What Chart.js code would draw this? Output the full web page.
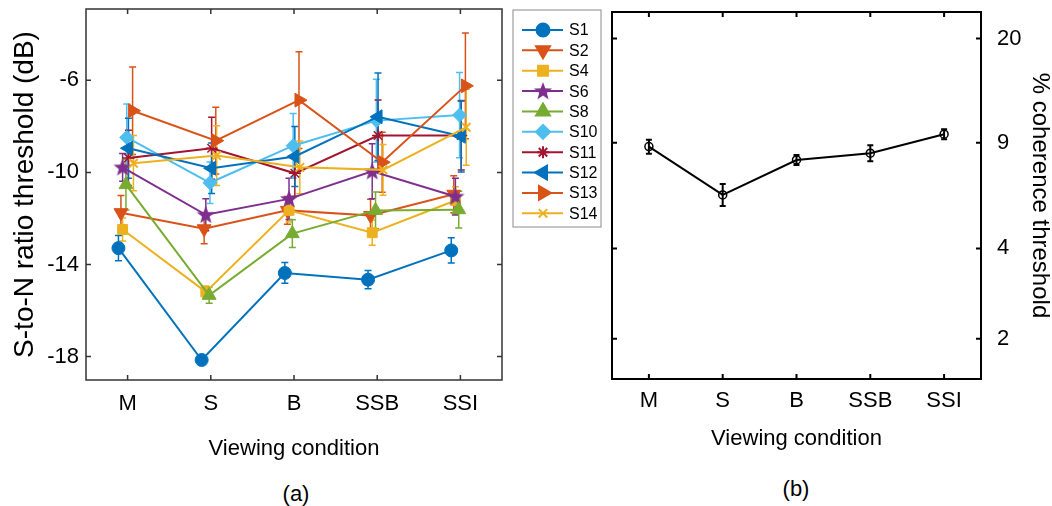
<!DOCTYPE html>
<html>
<head>
<meta charset="utf-8">
<script src="https://cdn.jsdelivr.net/npm/chart.js"></script>
<style>
  body { margin: 0; background: #fff; width: 1052px; height: 506px; position: relative; overflow: hidden;
         font-family: "Liberation Sans", Arial, Helvetica, sans-serif; color: #000; }
  #a { position: absolute; left: 0; top: 0; }
  #b { position: absolute; left: 605px; top: 0; }
  .lab { position: absolute; font-size: 22px; transform: translate(-50%, -50%); }
</style>
</head>
<body>
<canvas id="a" width="610" height="470" style="width:610px;height:470px"></canvas>
<canvas id="b" width="447" height="470" style="width:447px;height:470px"></canvas>
<div class="lab" style="left:296px;top:494px">(a)</div>
<div class="lab" style="left:796px;top:489px">(b)</div>
<script>
var conditions = ['M', 'S', 'B', 'SSB', 'SSI'];
var subjects = ['S1', 'S2', 'S4', 'S6', 'S8', 'S10', 'S11', 'S12', 'S13', 'S14'];

// panel (a): S-to-N ratio threshold (dB), per subject, M S B SSB SSI
var s1  = [-13.29, -18.15, -14.37, -14.66, -13.39];
var s2  = [-11.75, -12.45, -11.65, -11.87, -10.95];
var s4  = [-12.48, -15.19, -11.65, -12.62, -11.22];
var s6  = [-9.78, -11.84, -11.15, -9.95, -11.05];
var s8  = [-10.53, -15.34, -12.66, -11.65, -11.62];
var s10 = [-8.48, -10.45, -8.84, -7.75, -7.51];
var s11 = [-9.37, -8.95, -10.04, -8.40, -8.40];
var s12 = [-8.95, -9.82, -9.31, -7.58, -8.43];
var s13 = [-7.32, -8.62, -6.86, -9.56, -6.24];
var s14 = [-9.60, -9.27, -9.78, -9.89, -8.04];

// error bar half-lengths (dB)
var e1  = [0.55, 0.15, 0.45, 0.40, 0.55];
var e2  = [0.75, 0.65, 0.60, 0.70, 0.80];
var e4  = [0.50, 0.25, 0.50, 0.55, 0.60];
var e6  = [0.60, 0.70, 0.90, 1.20, 0.80];
var e8  = [1.10, 0.35, 0.60, 0.80, 0.80];
var e10 = [1.45, 0.90, 1.40, 1.80, 1.85];
var e11 = [1.20, 1.35, 1.00, 1.55, 1.50];
var e12 = [1.30, 1.10, 1.30, 1.90, 1.55];
var e13 = [1.90, 1.45, 2.10, 1.30, 2.30];
var e14 = [1.20, 1.30, 1.15, 1.10, 1.65];

// small horizontal spread of subjects around each condition (category units)
var jitter = [-0.11, -0.08, -0.06, -0.06, -0.02, -0.01, 0.01, 0.01, 0.06, 0.07];

var dbTicks = [-18, -14, -10, -6];

// panel (b): % coherence threshold, mean and error bar ends
var coherence = [8.73, 6.03, 7.88, 8.30, 9.60];
var cohLow    = [8.27, 5.54, 7.58, 7.81, 9.24];
var cohHigh   = [9.21, 6.56, 8.19, 8.82, 9.97];
var cohTicks  = [2, 4, 9, 20];

var values = [s1, s2, s4, s6, s8, s10, s11, s12, s13, s14];
var errors = [e1, e2, e4, e6, e8, e10, e11, e12, e13, e14];

var FONT = '"Liberation Sans", Arial, Helvetica, sans-serif';
var blue = '#0072BD', orange = '#D95319', yellow = '#EDB120', purple = '#7E2F8E',
    green = '#77AC30', cyan = '#4DBEEE', maroon = '#A2142F';

// filled pentagram for S6
function starImage(color) {
  var c = document.createElement('canvas');
  c.width = 20; c.height = 20;
  var g = c.getContext('2d');
  g.fillStyle = color;
  g.beginPath();
  for (var k = 0; k < 10; k++) {
    var r = k % 2 === 0 ? 9.5 : 4;
    var ang = -Math.PI / 2 + k * Math.PI / 5;
    g.lineTo(10 + r * Math.cos(ang), 10.5 + r * Math.sin(ang));
  }
  g.closePath();
  g.fill();
  return c;
}

var markers = [
  { color: blue,   style: 'circle',   rot: 0,   r: 6.5, bw: 1 },
  { color: orange, style: 'triangle', rot: 180, r: 8,   bw: 1 },
  { color: yellow, style: 'rect',     rot: 0,   r: 7,   bw: 1 },
  { color: purple, style: starImage(purple), rot: 0, r: 8, bw: 1 },
  { color: green,  style: 'triangle', rot: 0,   r: 8,   bw: 1 },
  { color: cyan,   style: 'rectRot',  rot: 0,   r: 7,   bw: 1 },
  { color: maroon, style: 'star',     rot: 0,   r: 6,   bw: 1.5 },
  { color: blue,   style: 'triangle', rot: 270, r: 8,   bw: 1 },
  { color: orange, style: 'triangle', rot: 90,  r: 8,   bw: 1 },
  { color: yellow, style: 'crossRot', rot: 0,   r: 6,   bw: 2 }
];

var errorBars = {
  id: 'errorBars',
  beforeDatasetsDraw: function (chart) {
    var ctx = chart.ctx, x = chart.scales.x, y = chart.scales.y;
    chart.data.datasets.forEach(function (ds) {
      ctx.save();
      ctx.strokeStyle = ds.borderColor;
      ctx.lineWidth = ds.errWidth;
      ctx.beginPath();
      ds.data.forEach(function (p, j) {
        var px = x.getPixelForValue(p.x);
        var y1 = y.getPixelForValue(ds.low[j]), y2 = y.getPixelForValue(ds.high[j]);
        var c = ds.cap;
        ctx.moveTo(px, y1); ctx.lineTo(px, y2);
        ctx.moveTo(px - c, y1); ctx.lineTo(px + c, y1);
        ctx.moveTo(px - c, y2); ctx.lineTo(px + c, y2);
      });
      ctx.stroke();
      ctx.restore();
    });
  }
};

function frame(color, width, len) {
  return {
    id: 'frame',
    afterDraw: function (chart) {
      var ctx = chart.ctx, a = chart.chartArea, x = chart.scales.x, y = chart.scales.y;
      ctx.save();
      ctx.strokeStyle = color;
      ctx.lineWidth = width;
      ctx.strokeRect(a.left, a.top, a.right - a.left, a.bottom - a.top);
      ctx.beginPath();
      x.ticks.forEach(function (t) {
        var px = x.getPixelForValue(t.value);
        ctx.moveTo(px, a.bottom); ctx.lineTo(px, a.bottom - len);
        ctx.moveTo(px, a.top); ctx.lineTo(px, a.top + len);
      });
      y.ticks.forEach(function (t) {
        var py = y.getPixelForValue(t.value);
        ctx.moveTo(a.left, py); ctx.lineTo(a.left + len, py);
        ctx.moveTo(a.right, py); ctx.lineTo(a.right - len, py);
      });
      ctx.stroke();
      ctx.restore();
    }
  };
}

var legendBox = {
  id: 'legendBox',
  afterDraw: function (chart) {
    var ctx = chart.ctx;
    ctx.save();
    ctx.fillStyle = '#fff';
    ctx.fillRect(513, 10, 88, 217);
    ctx.strokeStyle = '#8a8a8a';
    ctx.lineWidth = 1;
    ctx.strokeRect(513, 10, 88, 217);
    chart.data.datasets.forEach(function (ds, i) {
      var yy = 30 + i * 20.37;
      ctx.strokeStyle = ds.borderColor;
      ctx.fillStyle = ds.borderColor;
      ctx.lineWidth = 2;
      ctx.beginPath(); ctx.moveTo(522, yy); ctx.lineTo(563, yy); ctx.stroke();
      Chart.helpers.drawPoint(ctx, {
        pointStyle: ds.pointStyle, rotation: ds.pointRotation,
        radius: ds.pointRadius, borderWidth: ds.pointBorderWidth
      }, 543, yy);
      ctx.fillStyle = '#000';
      ctx.font = '16px ' + FONT;
      ctx.textBaseline = 'middle';
      ctx.textAlign = 'left';
      ctx.fillText(ds.label, 569, yy + 1);
    });
    ctx.restore();
  }
};

// no extra room for half tick labels: the plot box is placed exactly
function noPad(s) {
  s.paddingTop = 0; s.paddingBottom = 0; s.paddingLeft = 0; s.paddingRight = 0;
}

var tickFont = { family: FONT, size: 22 };

var left = new Chart(document.getElementById('a'), {
  type: 'line',
  data: {
    datasets: subjects.map(function (name, i) {
      var m = markers[i];
      return {
        label: name,
        data: values[i].map(function (v, j) { return { x: j + jitter[i], y: v }; }),
        low: values[i].map(function (v, j) { return v - errors[i][j]; }),
        high: values[i].map(function (v, j) { return v + errors[i][j]; }),
        cap: 3.5,
        errWidth: 1.5,
        borderColor: m.color,
        backgroundColor: m.color,
        borderWidth: 2,
        pointStyle: m.style,
        pointRotation: m.rot,
        pointRadius: m.r,
        pointBorderWidth: m.bw,
        pointBackgroundColor: m.color,
        pointBorderColor: m.color,
        order: 20 - i
      };
    })
  },
  options: {
    responsive: false,
    animation: false,
    layout: { padding: { left: 0, right: 108, top: 8, bottom: 0 } },
    plugins: { legend: { display: false }, tooltip: { enabled: false } },
    scales: {
      x: {
        type: 'linear', min: -0.5, max: 4.5,
        afterBuildTicks: function (s) { s.ticks = conditions.map(function (c, i) { return { value: i }; }); },
        afterFit: function (s) { s.height = 90; noPad(s); },
        ticks: { font: tickFont, color: '#000', padding: 11,
                 callback: function (v) { return conditions[Math.round(v)]; } },
        grid: { display: false, drawTicks: false },
        border: { display: false },
        title: { display: true, text: 'Viewing condition', color: '#000',
                 font: { family: FONT, size: 22, lineHeight: 1.2 }, padding: { top: 0, bottom: 8 } }
      },
      y: {
        min: -19.02, max: -2.9,
        afterBuildTicks: function (s) { s.ticks = dbTicks.map(function (v) { return { value: v }; }); },
        afterFit: function (s) { s.width = 86; noPad(s); },
        ticks: { font: tickFont, color: '#000', padding: 7 },
        grid: { display: false, drawTicks: false },
        border: { display: false },
        title: { display: true, text: 'S-to-N ratio threshold (dB)', color: '#000',
                 font: { family: FONT, size: 28, lineHeight: 1 }, padding: { top: 11, bottom: 0 } }
      }
    }
  },
  plugins: [errorBars, frame('#333', 1.5, 5), legendBox]
});

var right = new Chart(document.getElementById('b'), {
  type: 'line',
  data: {
    datasets: [{
      label: 'mean',
      data: coherence.map(function (v, j) { return { x: j, y: v }; }),
      low: cohLow,
      high: cohHigh,
      cap: 3,
      errWidth: 2,
      borderColor: '#000',
      borderWidth: 2,
      pointStyle: 'circle',
      pointRadius: 4,
      pointBorderWidth: 1.5,
      pointBackgroundColor: 'rgba(255,255,255,0)',
      pointBorderColor: '#000'
    }]
  },
  options: {
    responsive: false,
    animation: false,
    layout: { padding: { left: 7, right: 0, top: 12, bottom: 0 } },
    plugins: { legend: { display: false }, tooltip: { enabled: false } },
    scales: {
      x: {
        type: 'linear', min: -0.5, max: 4.5,
        afterBuildTicks: function (s) { s.ticks = conditions.map(function (c, i) { return { value: i }; }); },
        afterFit: function (s) { s.height = 91; noPad(s); },
        ticks: { font: tickFont, color: '#000', padding: 9,
                 callback: function (v) { return conditions[Math.round(v)]; } },
        grid: { display: false, drawTicks: false },
        border: { display: false },
        title: { display: true, text: 'Viewing condition', color: '#000',
                 font: { family: FONT, size: 22, lineHeight: 1.2 }, padding: { top: 0, bottom: 18 } }
      },
      y: {
        type: 'logarithmic', position: 'right', min: 1.47, max: 24.5,
        afterBuildTicks: function (s) { s.ticks = cohTicks.map(function (v) { return { value: v }; }); },
        afterFit: function (s) { s.width = 71; noPad(s); },
        ticks: { font: tickFont, color: '#000', padding: 16,
                 callback: function (v) { return String(v); } },
        grid: { display: false, drawTicks: false },
        border: { display: false },
        title: { display: true, text: '% coherence threshold', color: '#000',
                 font: { family: FONT, size: 24, lineHeight: 1 }, padding: { top: 0, bottom: 0 } }
      }
    }
  },
  plugins: [errorBars, frame('#000', 2, 5)]
});
</script>
</body>
</html>
